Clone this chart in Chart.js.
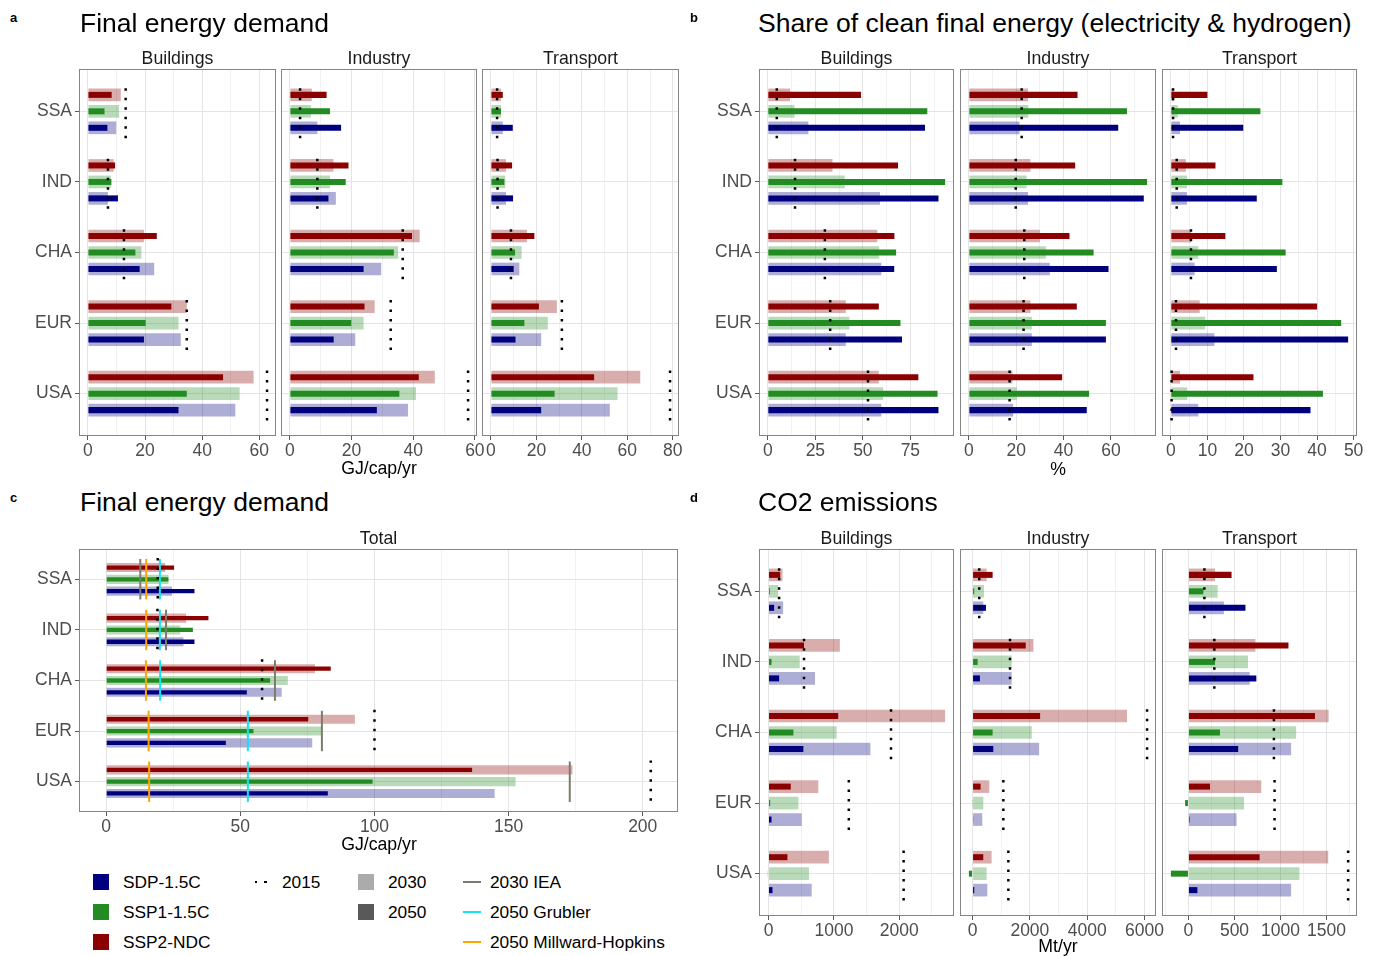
<!DOCTYPE html>
<html lang="en">
<head>
<meta charset="utf-8">
<title>Final energy demand, clean energy share and CO2 emissions by region</title>
<script src="https://cdn.jsdelivr.net/npm/chart.js@4.4.1/dist/chart.umd.min.js"></script>
<style>
  html, body { margin: 0; padding: 0; background: #fff; }
  #fig { position: relative; width: 1379px; height: 956px; overflow: hidden;
         font-family: "Liberation Sans", Arial, Helvetica, sans-serif; }
  #fig canvas { position: absolute; }
  .t { position: absolute; white-space: nowrap; line-height: 1; }
  .key { position: absolute; }
</style>
</head>
<body>
<div id="fig"></div>
<script>
// ---------- categories & scenarios ----------
const regions = ['SSA', 'IND', 'CHA', 'EUR', 'USA'];
const scenarios = ['SSP2-NDC', 'SSP1-1.5C', 'SDP-1.5C'];          // top-to-bottom inside each region
const legendScenarios = ['SDP-1.5C', 'SSP1-1.5C', 'SSP2-NDC'];
const scenarioColor = { 'SDP-1.5C': '#00007F', 'SSP1-1.5C': '#228B22', 'SSP2-NDC': '#8B0000' };

// ---------- a: final energy demand by sector (GJ/cap/yr) ----------
const feBuildings2015 = [13.2, 7.0, 12.6, 34.6, 62.7];
const feBuildings2030 = { 'SSP2-NDC': [11.5, 9.0, 19.6, 34.6, 58.0], 'SSP1-1.5C': [10.9, 8.0, 18.7, 31.7, 53.1], 'SDP-1.5C': [9.9, 7.0, 23.2, 32.5, 51.6] };
const feBuildings2050 = { 'SSP2-NDC': [8.3, 9.5, 24.1, 29.2, 47.3], 'SSP1-1.5C': [5.8, 8.2, 16.6, 20.2, 34.6], 'SDP-1.5C': [6.8, 10.5, 18.1, 19.6, 31.7] };

const feIndustry2015 = [3.3, 8.9, 36.6, 32.7, 57.8];
const feIndustry2030 = { 'SSP2-NDC': [7.1, 14.1, 42.1, 27.5, 47.0], 'SSP1-1.5C': [6.8, 13.0, 35.1, 23.9, 40.9], 'SDP-1.5C': [8.9, 14.9, 29.6, 21.2, 38.3] };
const feIndustry2050 = { 'SSP2-NDC': [11.9, 19.0, 39.6, 24.2, 41.8], 'SSP1-1.5C': [13.0, 18.1, 33.7, 19.9, 35.5], 'SDP-1.5C': [16.6, 12.5, 23.9, 14.2, 28.2] };

const feTransport2015 = [2.7, 2.9, 8.8, 31.2, 78.8];
const feTransport2030 = { 'SSP2-NDC': [4.4, 6.6, 15.8, 29.0, 65.7], 'SSP1-1.5C': [4.4, 6.3, 13.5, 25.0, 55.7], 'SDP-1.5C': [5.2, 6.6, 12.5, 22.1, 52.3] };
const feTransport2050 = { 'SSP2-NDC': [5.2, 9.3, 19.1, 21.1, 45.4], 'SSP1-1.5C': [4.4, 5.9, 10.6, 14.7, 28.0], 'SDP-1.5C': [9.6, 9.7, 10.0, 10.8, 22.1] };

// ---------- b: share of electricity & hydrogen in final energy (%) ----------
const shBuildings2015 = [4.7, 14.3, 30.0, 32.8, 52.7];
const shBuildings2030 = { 'SSP2-NDC': [11.7, 34.0, 57.6, 41.0, 58.4], 'SSP1-1.5C': [14.0, 40.5, 58.6, 42.9, 60.7], 'SDP-1.5C': [21.3, 59.0, 59.7, 41.0, 59.7] };
const shBuildings2050 = { 'SSP2-NDC': [49.0, 68.5, 66.6, 58.4, 79.2], 'SSP1-1.5C': [83.9, 93.3, 67.5, 69.8, 89.3], 'SDP-1.5C': [82.7, 89.8, 66.5, 70.6, 89.8] };

const shIndustry2015 = [22.3, 19.8, 23.4, 23.1, 17.2];
const shIndustry2030 = { 'SSP2-NDC': [25.0, 26.0, 30.0, 26.0, 18.4], 'SSP1-1.5C': [25.1, 24.4, 32.5, 26.6, 20.2], 'SDP-1.5C': [21.4, 25.0, 34.2, 26.6, 18.7] };
const shIndustry2050 = { 'SSP2-NDC': [45.9, 44.9, 42.5, 45.6, 39.4], 'SSP1-1.5C': [66.8, 75.3, 52.7, 57.9, 50.8], 'SDP-1.5C': [63.1, 73.9, 59.0, 57.9, 49.8] };

const shTransport2015 = [0.6, 1.6, 5.5, 1.4, 0.2];
const shTransport2030 = { 'SSP2-NDC': [0.9, 4.1, 5.5, 7.9, 2.5], 'SSP1-1.5C': [1.9, 4.4, 7.5, 9.4, 4.5], 'SDP-1.5C': [2.5, 4.4, 6.5, 11.9, 7.5] };
const shTransport2050 = { 'SSP2-NDC': [10.0, 12.2, 14.9, 40.0, 22.6], 'SSP1-1.5C': [24.5, 30.5, 31.4, 46.6, 41.6], 'SDP-1.5C': [19.8, 23.5, 29.0, 48.5, 38.2] };

// ---------- c: total final energy demand (GJ/cap/yr) and external benchmarks ----------
const feTotal2015 = [19.2, 19.1, 58.1, 100.0, 203.0];
const feTotal2030 = { 'SSP2-NDC': [22.0, 29.8, 77.8, 92.7, 173.8], 'SSP1-1.5C': [23.2, 27.6, 67.7, 80.3, 152.6], 'SDP-1.5C': [24.5, 28.8, 65.4, 76.8, 144.8] };
const feTotal2050 = { 'SSP2-NDC': [25.3, 38.1, 83.7, 75.3, 136.4], 'SSP1-1.5C': [23.2, 32.3, 61.1, 54.9, 99.3], 'SDP-1.5C': [32.9, 32.9, 52.4, 44.6, 82.6] };
const total2030IEA = [12.7, 22.3, 62.9, 80.4, 172.8];
const total2050Grubler = [20.0, 20.0, 20.1, 52.8, 52.8];
const total2050MillwardHopkins = [14.9, 14.9, 14.8, 15.8, 16.0];

// ---------- d: CO2 emissions by sector (Mt/yr) ----------
const co2Buildings2015 = [162, 543, 1873, 1228, 2066];
const co2Buildings2030 = { 'SSP2-NDC': [213, 1091, 2701, 761, 924], 'SSP1-1.5C': [147, 477, 1041, 457, 619], 'SDP-1.5C': [223, 711, 1558, 508, 660] };
const co2Buildings2050 = { 'SSP2-NDC': [178, 543, 1066, 340, 289], 'SSP1-1.5C': [20, 46, 381, 25, -10], 'SDP-1.5C': [86, 162, 533, 46, 61] };

const co2Industry2015 = [233, 1307, 6093, 1074, 1249];
const co2Industry2030 = { 'SSP2-NDC': [490, 2124, 5392, 584, 665], 'SSP1-1.5C': [397, 1366, 2066, 373, 490], 'SDP-1.5C': [373, 1366, 2323, 338, 514] };
const co2Industry2050 = { 'SSP2-NDC': [700, 1856, 2358, 280, 373], 'SSP1-1.5C': [58, 175, 700, -12, -128], 'SDP-1.5C': [467, 257, 724, 23, 58] };

const co2Transport2015 = [173, 281, 928, 935, 1734];
const co2Transport2030 = { 'SSP2-NDC': [288, 727, 1522, 791, 1518], 'SSP1-1.5C': [317, 647, 1169, 604, 1205], 'SDP-1.5C': [385, 665, 1115, 522, 1115] };
const co2Transport2050 = { 'SSP2-NDC': [468, 1086, 1374, 234, 773], 'SSP1-1.5C': [162, 288, 342, -36, -191], 'SDP-1.5C': [619, 737, 540, 11, 97] };

// ---------- styling ----------
const FONT = '"Liberation Sans", Arial, Helvetica, sans-serif';
const GRID_MAJOR = '#E4E4E4', GRID_MINOR = '#F1F1F1';
const AXIS_TEXT = '#4D4D4D', TICK_MARK = '#5A5A5A', PANEL_BORDER = '#858585';
const LIGHT_ALPHA = 0.32;
const refLines = [
  { label: '2030 IEA', values: total2030IEA, color: '#7C7C6A' },
  { label: '2050 Grubler', values: total2050Grubler, color: '#14E4F0' },
  { label: '2050 Millward-Hopkins', values: total2050MillwardHopkins, color: '#FFA500' }
];

const fig = document.getElementById('fig');
Chart.defaults.font.family = FONT;

function fade(hex, a) {
  const n = parseInt(hex.slice(1), 16);
  return `rgba(${n >> 16},${(n >> 8) & 255},${n & 255},${a})`;
}

// ggplot-like continuous range: include zero, 5% expansion on each side
function paddedRange(values) {
  const lo = Math.min(0, ...values), hi = Math.max(0, ...values);
  const pad = (hi - lo) * 0.05;
  return { min: lo - pad, max: hi + pad };
}

// every multiple of step inside [min, max]
function tickValues(min, max, step) {
  const out = [];
  for (let k = Math.ceil(min / step - 1e-9); k * step <= max + 1e-9; k++) {
    out.push(Math.round(k * step * 1000) / 1000);
  }
  return out;
}

// vertical segment per region at a given value, spanning [from, to] around the region slot
function segments(values, from, to) {
  const pts = [];
  values.forEach((v, i) => {
    pts.push({ x: v, y: i + 1 + from }, { x: v, y: i + 1 + to }, { x: null, y: null });
  });
  return pts;
}

const panelBorder = {
  id: 'panelBorder',
  afterDatasetsDraw(chart) {
    const { ctx, chartArea: a } = chart;
    ctx.save();
    ctx.strokeStyle = PANEL_BORDER;
    ctx.lineWidth = 1;
    ctx.strokeRect(a.left + 0.5, a.top + 0.5, a.right - a.left - 1, a.bottom - a.top - 1);
    ctx.restore();
  }
};

const PAD_T = 18, PAD_L = 12, PAD_R = 26, Y_AXIS_W = 60, X_AXIS_H = 34;

function buildFacet(f) {
  const [l, t, r, b] = f.box;
  const yW = f.showY ? Y_AXIS_W : 0;
  const padL = f.showY ? 0 : PAD_L;
  const left = l - yW - padL;
  const cv = document.createElement('canvas');
  cv.width = (r - l) + yW + padL + PAD_R;
  cv.height = (b - t) + PAD_T + X_AXIS_H;
  cv.style.left = left + 'px';
  cv.style.top = (t - PAD_T) + 'px';
  fig.appendChild(cv);

  const refs = f.refs || [];
  const allValues = [
    ...f.v2015,
    ...scenarios.flatMap(s => f.v2030[s]),
    ...scenarios.flatMap(s => f.v2050[s]),
    ...refs.flatMap(ref => ref.values)
  ];
  const range = paddedRange(allValues);
  const isMajor = v => Math.abs(v / f.major - Math.round(v / f.major)) < 1e-6;

  const datasets = [];
  // 2015 marker (dotted), drawn on top
  datasets.push({
    type: 'line', label: '2015', order: 0,
    data: segments(f.v2015, 0.38, -0.42),
    borderColor: '#000', borderWidth: 2.5, borderDash: [2.5, 7], borderCapStyle: 'butt',
    pointRadius: 0, spanGaps: false, fill: false
  });
  refs.forEach(ref => datasets.push({
    type: 'line', label: ref.label, order: 0,
    data: segments(ref.values, -0.4, 0.4),
    borderColor: ref.color, borderWidth: 2, borderCapStyle: 'butt',
    pointRadius: 0, spanGaps: false, fill: false
  }));
  // 2050: dark, narrow bars
  scenarios.forEach(s => datasets.push({
    type: 'bar', label: s + ' 2050', stack: s, order: 1,
    data: f.v2050[s].map((v, i) => ({ x: v, y: i + 1 })),
    backgroundColor: scenarioColor[s], borderWidth: 0,
    categoryPercentage: 0.7, barPercentage: 0.365
  }));
  // 2030: light, wide bars behind
  scenarios.forEach(s => datasets.push({
    type: 'bar', label: s + ' 2030', stack: s, order: 2,
    data: f.v2030[s].map((v, i) => ({ x: v, y: i + 1 })),
    backgroundColor: fade(scenarioColor[s], LIGHT_ALPHA), borderWidth: 0,
    categoryPercentage: 0.7, barPercentage: 0.77
  }));

  new Chart(cv, {
    type: 'bar',
    data: { datasets },
    plugins: [panelBorder],
    options: {
      indexAxis: 'y',
      responsive: false,
      maintainAspectRatio: false,
      devicePixelRatio: 1,
      animation: false,
      events: [],
      layout: { padding: { left: padL, right: PAD_R, top: PAD_T, bottom: 0 } },
      plugins: { legend: { display: false }, tooltip: { enabled: false } },
      scales: {
        x: {
          type: 'linear', min: range.min, max: range.max, stacked: false, offset: false,
          border: { display: false },
          grid: {
            color: c => (c.tick && isMajor(c.tick.value)) ? GRID_MAJOR : GRID_MINOR,
            lineWidth: 1, drawTicks: true, tickLength: 4, tickWidth: 1,
            tickColor: c => (c.tick && isMajor(c.tick.value)) ? TICK_MARK : 'rgba(0,0,0,0)'
          },
          ticks: {
            autoSkip: false, maxRotation: 0,
            padding: 1, color: AXIS_TEXT, font: { family: FONT, size: 17.5 },
            callback: v => isMajor(v) ? String(v) : ''
          },
          afterBuildTicks: s => { s.ticks = tickValues(range.min, range.max, f.major / 2).map(value => ({ value })); },
          afterFit: s => { s.height = X_AXIS_H; }
        },
        y: {
          type: 'linear', reverse: true, min: 0.4, max: 5.6, offset: false,
          border: { display: false },
          grid: {
            color: GRID_MAJOR, lineWidth: 1, offset: false,
            drawTicks: !!f.showY, tickLength: 4, tickColor: TICK_MARK
          },
          ticks: {
            display: !!f.showY, autoSkip: false,
            padding: 3, color: AXIS_TEXT, font: { family: FONT, size: 17.5 },
            callback: v => regions[v - 1] ?? ''
          },
          afterBuildTicks: s => { s.ticks = regions.map((_, i) => ({ value: i + 1 })); },
          afterFit: s => { s.width = yW; }
        }
      }
    }
  });
}

const facets = [
  { box: [79, 69, 276, 436], strip: 'Buildings', v2015: feBuildings2015, v2030: feBuildings2030, v2050: feBuildings2050, major: 20, showY: true },
  { box: [281, 69, 477, 436], strip: 'Industry', v2015: feIndustry2015, v2030: feIndustry2030, v2050: feIndustry2050, major: 20 },
  { box: [482, 69, 679, 436], strip: 'Transport', v2015: feTransport2015, v2030: feTransport2030, v2050: feTransport2050, major: 20 },
  { box: [759, 69, 954, 436], strip: 'Buildings', v2015: shBuildings2015, v2030: shBuildings2030, v2050: shBuildings2050, major: 25, showY: true },
  { box: [960, 69, 1156, 436], strip: 'Industry', v2015: shIndustry2015, v2030: shIndustry2030, v2050: shIndustry2050, major: 20 },
  { box: [1162, 69, 1357, 436], strip: 'Transport', v2015: shTransport2015, v2030: shTransport2030, v2050: shTransport2050, major: 10 },
  { box: [79, 549, 678, 812], strip: 'Total', v2015: feTotal2015, v2030: feTotal2030, v2050: feTotal2050, major: 50, showY: true, refs: refLines },
  { box: [759, 549, 954, 916], strip: 'Buildings', v2015: co2Buildings2015, v2030: co2Buildings2030, v2050: co2Buildings2050, major: 1000, showY: true },
  { box: [960, 549, 1156, 916], strip: 'Industry', v2015: co2Industry2015, v2030: co2Industry2030, v2050: co2Industry2050, major: 2000 },
  { box: [1162, 549, 1357, 916], strip: 'Transport', v2015: co2Transport2015, v2030: co2Transport2030, v2050: co2Transport2050, major: 500 }
];

// ---------- text ----------
function addText(str, x, cy, size, opts = {}) {
  const d = document.createElement('div');
  d.className = 't';
  d.textContent = str;
  d.style.fontSize = size + 'px';
  d.style.top = (cy - 0.49 * size) + 'px';
  d.style.left = x + 'px';
  d.style.color = opts.color || '#000';
  if (opts.bold) d.style.fontWeight = 'bold';
  if (opts.center) d.style.transform = 'translateX(-50%)';
  fig.appendChild(d);
  return d;
}

facets.forEach(f => {
  buildFacet(f);
  addText(f.strip, (f.box[0] + f.box[2]) / 2, f.box[1] - 10.5, 17.7, { center: true, color: '#1A1A1A' });
});

addText('a', 10, 17, 13, { bold: true });
addText('b', 690, 17, 13, { bold: true });
addText('c', 10, 497, 13, { bold: true });
addText('d', 690, 497, 13, { bold: true });

addText('Final energy demand', 80, 22.5, 26.5);
addText('Share of clean final energy (electricity & hydrogen)', 758, 22.5, 26.5);
addText('Final energy demand', 80, 501.5, 26.5);
addText('CO2 emissions', 758, 501.5, 26.5);

addText('GJ/cap/yr', 379, 468.5, 17.7, { center: true });
addText('%', 1058, 469.5, 17.7, { center: true });
addText('GJ/cap/yr', 379, 845, 17.7, { center: true });
addText('Mt/yr', 1058, 947, 17.7, { center: true });

// ---------- legend ----------
function addKey(x, y, w, h, css) {
  const k = document.createElement('div');
  k.className = 'key';
  k.style.left = x + 'px'; k.style.top = y + 'px';
  k.style.width = w + 'px'; k.style.height = h + 'px';
  Object.assign(k.style, css);
  fig.appendChild(k);
}
const legendRowY = [882, 912, 942];
const LEG_SIZE = 17.3;

legendScenarios.forEach((s, i) => {
  addKey(93, legendRowY[i] - 8, 16, 16, { background: scenarioColor[s] });
  addText(s, 123, legendRowY[i], LEG_SIZE);
});

addKey(255, legendRowY[0] - 1.25, 12, 2.5, {
  background: 'linear-gradient(to right, #000 0 2.5px, transparent 2.5px 9.5px, #000 9.5px 12px)'
});
addText('2015', 282, legendRowY[0], LEG_SIZE);

addKey(358, legendRowY[0] - 8, 16, 16, { background: '#ABABAB' });
addText('2030', 388, legendRowY[0], LEG_SIZE);
addKey(358, legendRowY[1] - 8, 16, 16, { background: '#595959' });
addText('2050', 388, legendRowY[1], LEG_SIZE);

refLines.forEach((ref, i) => {
  addKey(463, legendRowY[i] - 1, 18, 2, { background: ref.color });
  addText(ref.label, 490, legendRowY[i], LEG_SIZE);
});
</script>
</body>
</html>
